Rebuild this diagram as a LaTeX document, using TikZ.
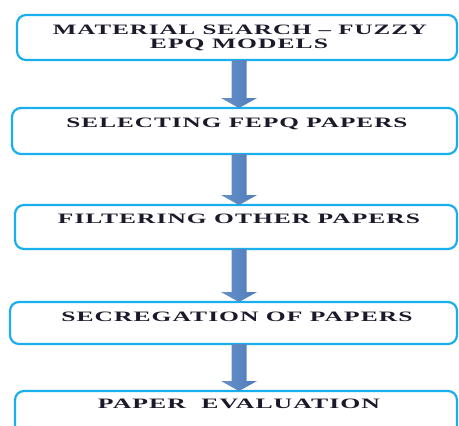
\documentclass[tikz,border=0pt]{standalone}
\usepackage{fontspec}
\setmainfont{Liberation Serif}
\newfontfamily\lblfont[LetterSpace=4]{Liberation Serif}
\usetikzlibrary{calc}
\definecolor{boxline}{HTML}{19AFEE}
\definecolor{txt}{HTML}{1C1A2A}
\definecolor{arrowedge}{HTML}{6690C8}
\definecolor{arrowmid}{HTML}{3764A6}
\definecolor{arrowright}{HTML}{4E7DBC}
\tikzset{
  box/.style={draw=boxline, line width=2.2pt, rounded corners=9pt, inner sep=0pt, outer sep=0pt, anchor=north west},
  lbl/.style={anchor=base, inner sep=0pt, text=txt, font=\lblfont\bfseries},
  arrowshade/.style={left color=arrowedge, middle color=arrowmid, right color=arrowright}
}
\newcommand{\fittext}[2]{\resizebox{#1pt}{9.5pt}{#2}}
\newcommand{\blockarrow}[2]{%
  \shade[arrowshade] ($(ax|-#1.south)+(-7.5,0)$) -- ($(ax|-#1.south)+(7.5,0)$)
    -- ($(ax|-#2.north)+(7.5,-10)$) -- ($(ax|-#2.north)+(18,-10)$)
    -- (ax|-#2.north) -- ($(ax|-#2.north)+(-18,-10)$)
    -- ($(ax|-#2.north)+(-7.5,-10)$) -- cycle;}
\begin{document}
\begin{tikzpicture}[x=1pt,y=-1pt]
\useasboundingbox (0,0) rectangle (459,426);
\clip (0,0) rectangle (459,426);
\coordinate (ax) at (239,0);
\node[box, minimum width=440pt, minimum height=45pt] (b1) at (17,15) {};
\node[box, minimum width=445pt, minimum height=46pt] (b2) at (12,108) {};
\node[box, minimum width=442pt, minimum height=44pt] (b3) at (15,205) {};
\node[box, minimum width=447pt, minimum height=42pt] (b4) at (10,302) {};
\node[box, minimum width=442pt, minimum height=60pt] (b5) at (15,391) {};
\node[lbl] (t1a) at (240,34) {\fittext{374}{MATERIAL SEARCH \textendash{} FUZZY}};
\node[lbl] (t1b) at (239,48) {\fittext{178}{EPQ MODELS}};
\node[lbl] (t2) at (237,127) {\fittext{341}{SELECTING FEPQ PAPERS}};
\node[lbl] (t3) at (239,223) {\fittext{362}{FILTERING OTHER PAPERS}};
\node[lbl] (t4) at (237,321) {\fittext{351}{SECREGATION OF PAPERS}};
\node[lbl] (t5) at (239,408) {\fittext{282}{PAPER\hspace{0.6em}EVALUATION}};
\blockarrow{b1}{b2}
\blockarrow{b2}{b3}
\blockarrow{b3}{b4}
\blockarrow{b4}{b5}
\end{tikzpicture}
\end{document}
